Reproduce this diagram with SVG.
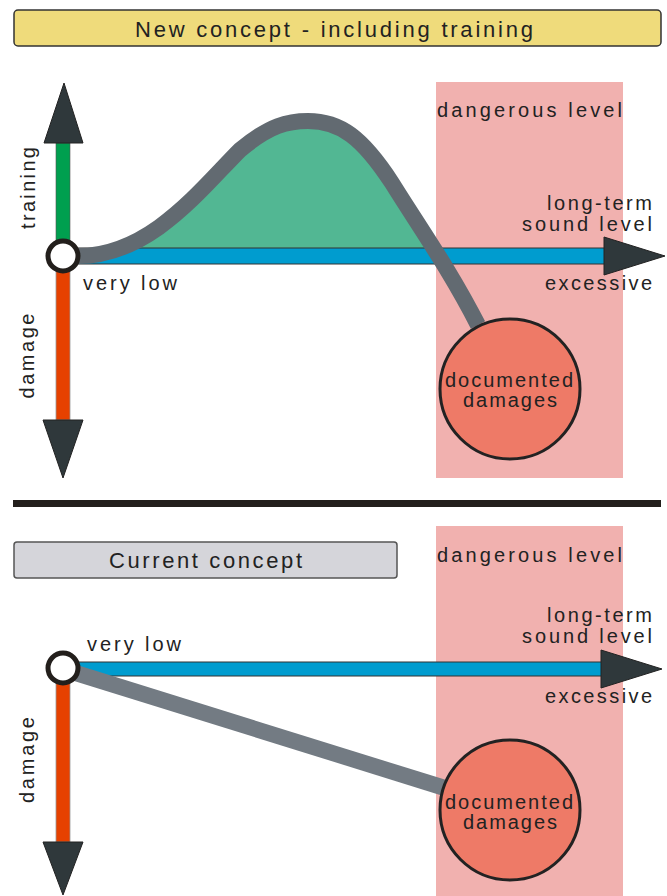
<svg xmlns="http://www.w3.org/2000/svg" width="667" height="896" viewBox="0 0 667 896">
<style>
text{font-family:"Liberation Sans",Arial,sans-serif;fill:#222;font-size:20px}
.t{font-size:22px}
.zone{fill:#f1b1af}
.dmg{fill:#ee7a67;stroke:#222;stroke-width:3}
.origin{fill:#fff;stroke:#231f1c;stroke-width:5}
.head{fill:#2f383b;stroke:#222;stroke-width:1}
.curve{fill:none;stroke:#626a71;stroke-width:16}
.curve2{fill:none;stroke:#737b83;stroke-width:16}
</style>
<defs>
<clipPath id="aboveBar"><rect x="0" y="0" width="667" height="248"/></clipPath>
</defs>

<g id="zones">
<rect id="zone-top" class="zone" x="436" y="82" width="187" height="396"/>
<rect id="zone-bottom" class="zone" x="436" y="526" width="187" height="370"/>
</g>

<g id="banner-new">
<rect x="14" y="10" width="647" height="36" rx="4" fill="#efdb7b" stroke="#333" stroke-width="1.5"/>
<text class="t" x="135" y="37" textLength="398" lengthAdjust="spacing">New concept - including training</text>
</g>

<g id="separator"><rect x="13" y="500" width="648" height="7" fill="#231f1c"/></g>

<g id="banner-current">
<rect x="14" y="542" width="383" height="36" rx="3" fill="#d5d5da" stroke="#555" stroke-width="1.5"/>
<text class="t" x="109" y="568" textLength="193" lengthAdjust="spacing">Current concept</text>
</g>

<g id="connectors">
<!-- top section -->
<path d="M78 256 C150 256 200 190 240 150 C270 125 288 121 308 121 C340 121 362 137 392 183 C420 228 450 270 478 325 Z" fill="#52b793" clip-path="url(#aboveBar)"/>
<rect x="56" y="143" width="14" height="110" fill="#009f4f" stroke="#555" stroke-width="0.6"/>
<rect x="56" y="262" width="14" height="158" fill="#e64100" stroke="#999" stroke-width="0.8"/>
<polygon class="head" points="64,83 83,143 44,143"/>
<polygon class="head" points="63,478 83,420 43,420"/>
<rect x="70" y="248" width="536" height="16" fill="#009ccf" stroke="#333" stroke-width="1"/>
<polygon class="head" points="604,237 665,256 604,275"/>
<path class="curve" d="M78 256 C150 256 200 190 240 150 C270 125 288 121 308 121 C340 121 362 137 392 183 C420 228 450 270 478 325"/>
<!-- bottom section -->
<rect x="56" y="675" width="14" height="167" fill="#e64100" stroke="#999" stroke-width="0.8"/>
<polygon class="head" points="63,895 83,842 43,842"/>
<rect x="70" y="662" width="532" height="14" fill="#009ccf" stroke="#333" stroke-width="1"/>
<polygon class="head" points="601,650 662,669 601,688"/>
<line class="curve2" x1="66" y1="670" x2="448" y2="789"/>
</g>

<g id="origin-top"><circle class="origin" cx="63" cy="256" r="15"/></g>
<g id="origin-bottom"><circle class="origin" cx="63" cy="668" r="15"/></g>

<g id="damages-top">
<circle class="dmg" cx="510" cy="389" r="70"/>
<text x="509" y="387" text-anchor="middle" textLength="128" lengthAdjust="spacing">documented</text>
<text x="510" y="407" text-anchor="middle" textLength="94" lengthAdjust="spacing">damages</text>
</g>
<g id="damages-bottom">
<circle class="dmg" cx="510" cy="810" r="70"/>
<text x="509" y="809" text-anchor="middle" textLength="128" lengthAdjust="spacing">documented</text>
<text x="510" y="829" text-anchor="middle" textLength="94" lengthAdjust="spacing">damages</text>
</g>

<g id="labels-top">
<text x="437" y="117" textLength="185" lengthAdjust="spacing">dangerous level</text>
<text x="652" y="210" text-anchor="end" textLength="105" lengthAdjust="spacing">long-term</text>
<text x="652" y="231" text-anchor="end" textLength="130" lengthAdjust="spacing">sound level</text>
<text x="652" y="290" text-anchor="end" textLength="107" lengthAdjust="spacing">excessive</text>
<text x="83" y="290" textLength="94" lengthAdjust="spacing">very low</text>
<text transform="translate(35,188) rotate(-90)" text-anchor="middle" textLength="82" lengthAdjust="spacing">training</text>
<text transform="translate(34,356) rotate(-90)" text-anchor="middle" textLength="85" lengthAdjust="spacing">damage</text>
</g>

<g id="labels-bottom">
<text x="437" y="562" textLength="185" lengthAdjust="spacing">dangerous level</text>
<text x="652" y="622" text-anchor="end" textLength="105" lengthAdjust="spacing">long-term</text>
<text x="652" y="643" text-anchor="end" textLength="130" lengthAdjust="spacing">sound level</text>
<text x="652" y="703" text-anchor="end" textLength="107" lengthAdjust="spacing">excessive</text>
<text x="87" y="651" textLength="94" lengthAdjust="spacing">very low</text>
<text transform="translate(34,760) rotate(-90)" text-anchor="middle" textLength="86" lengthAdjust="spacing">damage</text>
</g>
</svg>
